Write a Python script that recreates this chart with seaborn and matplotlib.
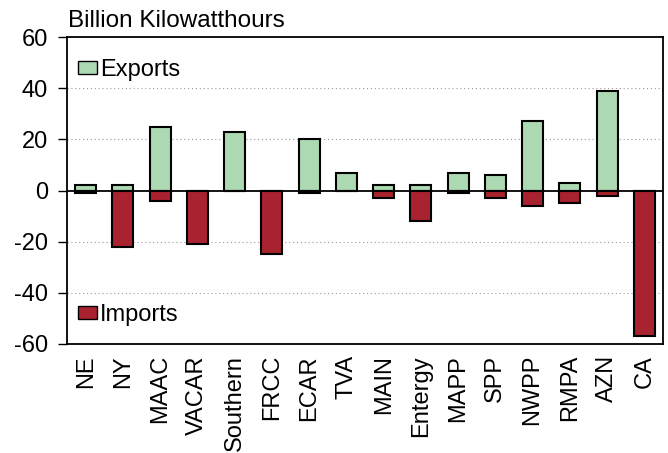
import matplotlib
matplotlib.use('Agg')
import matplotlib.pyplot as plt
import matplotlib.patches as mpatches
import seaborn as sns

# regions and trade values (billion kWh)
regions = ['NE', 'NY', 'MAAC', 'VACAR', 'Southern', 'FRCC', 'ECAR', 'TVA',
           'MAIN', 'Entergy', 'MAPP', 'SPP', 'NWPP', 'RMPA', 'AZN', 'CA']
exports = [2, 2, 25, 0, 23, 0, 20, 7, 2, 2, 7, 6, 27, 3, 39, 0]
imports = [-1, -22, -4, -21, 0, -25, -1, 0, -3, -12, -1, -3, -6, -5, -2, -57]

green = '#acd9b2'
red = '#a8232f'

sns.set_style('white')
plt.rcParams['font.family'] = ['Liberation Sans', 'DejaVu Sans']
plt.rcParams['axes.unicode_minus'] = False
plt.rcParams['text.color'] = 'black'

fig = plt.figure(figsize=(6.68, 4.53), dpi=100)
ax = fig.add_axes([67 / 668, 1 - 344 / 453, 596 / 668, 307 / 453])

sns.barplot(x=regions, y=exports, color=green, saturation=1, edgecolor='black',
            linewidth=1.5, width=0.56, ax=ax, zorder=3)
sns.barplot(x=regions, y=imports, color=red, saturation=1, edgecolor='black',
            linewidth=1.5, width=0.56, ax=ax, zorder=3)

ax.set_ylim(-60, 60)
ax.set_yticks(range(-60, 61, 20))
ax.set_xlim(-0.5, len(regions) - 0.5)
for v in range(-60, 61, 20):
    if v != 0:
        ax.axhline(v, color='#999999', linestyle=(0, (1, 2.5)), linewidth=0.8, zorder=1)
ax.axhline(0, color='black', linewidth=1.3, zorder=4)

ax.tick_params(axis='y', labelsize=17, length=6.5, width=1, direction='out',
               left=True, pad=7, colors='black')
ax.tick_params(axis='x', labelsize=17, rotation=90, length=0, pad=8, colors='black')
for s in ax.spines.values():
    s.set_color('black')
    s.set_linewidth(1.3)

fig.text(68 / 668, 1 - 27 / 453, 'Billion Kilowatthours', fontsize=17.5,
         ha='left', va='baseline', color='black')

h1 = mpatches.Patch(facecolor=green, edgecolor='black', label='Exports')
h2 = mpatches.Patch(facecolor=red, edgecolor='black', label='Imports')
leg_kw = dict(frameon=False, fontsize=17, handlelength=0.8, handleheight=0.5,
              handletextpad=0.15, borderpad=0, borderaxespad=0, loc='center left',
              labelcolor='black')
leg1 = ax.legend(handles=[h1], bbox_to_anchor=(0.018, 0.893), **leg_kw)
ax.add_artist(leg1)
ax.legend(handles=[h2], bbox_to_anchor=(0.018, 0.094), **leg_kw)

fig.savefig('out.png', dpi=100)
